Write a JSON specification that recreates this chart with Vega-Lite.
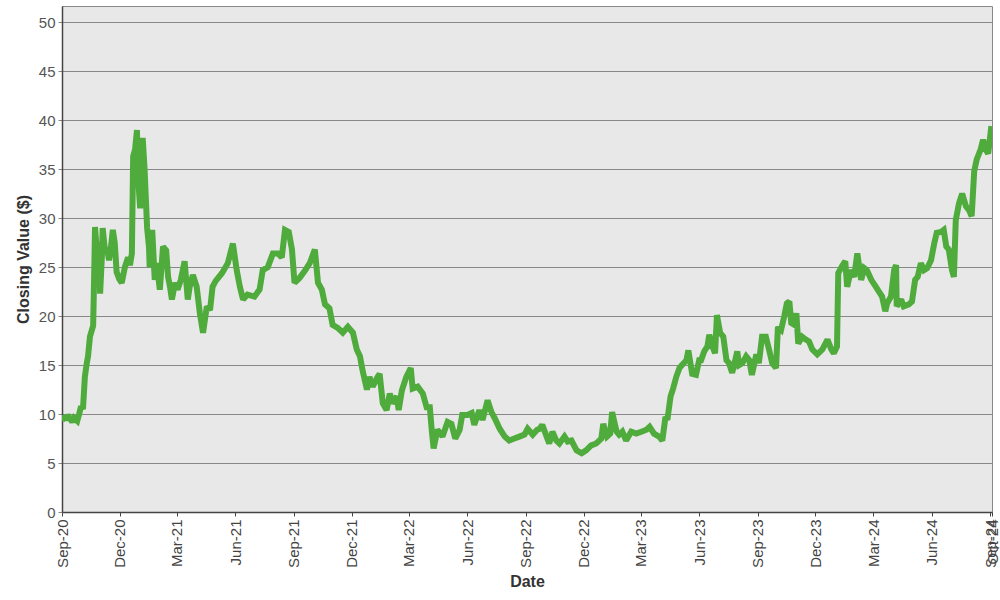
{
  "$schema": "https://vega.github.io/schema/vega-lite/v6.json",
  "width": 930,
  "height": 506,
  "autosize": {"type": "none"},
  "padding": {"left": 62, "top": 6, "right": 8, "bottom": 88},
  "background": "white",
  "config": {
    "view": {"fill": "#e8e8e8", "stroke": "#888888", "strokeWidth": 1},
    "font": "Liberation Sans"
  },
  "data": {"values": [
    {"d":"2020-09-28","v":9.3},{"d":"2020-10-01","v":9.8},{"d":"2020-10-04","v":9.4},{"d":"2020-10-07","v":9.9},
    {"d":"2020-10-11","v":9.5},{"d":"2020-10-14","v":9.2},{"d":"2020-10-17","v":9.6},{"d":"2020-10-22","v":9.3},
    {"d":"2020-10-25","v":10.0},{"d":"2020-10-28","v":10.8},{"d":"2020-10-31","v":10.5},{"d":"2020-11-03","v":13.8},
    {"d":"2020-11-06","v":15.2},{"d":"2020-11-08","v":15.9},{"d":"2020-11-11","v":17.9},{"d":"2020-11-16","v":19.0},
    {"d":"2020-11-17","v":22.0},{"d":"2020-11-19","v":29.1},{"d":"2020-11-22","v":26.5},{"d":"2020-11-25","v":27.5},
    {"d":"2020-11-27","v":22.3},{"d":"2020-11-30","v":26.4},{"d":"2020-12-01","v":29.0},{"d":"2020-12-05","v":26.5},
    {"d":"2020-12-08","v":27.0},{"d":"2020-12-11","v":25.7},{"d":"2020-12-14","v":27.0},{"d":"2020-12-17","v":28.8},
    {"d":"2020-12-20","v":27.5},{"d":"2020-12-23","v":24.5},{"d":"2020-12-27","v":23.8},{"d":"2020-12-31","v":23.4},
    {"d":"2021-01-05","v":25.0},{"d":"2021-01-10","v":26.0},{"d":"2021-01-13","v":25.2},{"d":"2021-01-16","v":26.4},
    {"d":"2021-01-18","v":36.3},{"d":"2021-01-21","v":37.0},{"d":"2021-01-24","v":39.0},{"d":"2021-01-25","v":35.0},
    {"d":"2021-01-29","v":31.0},{"d":"2021-01-30","v":33.0},{"d":"2021-02-02","v":38.2},{"d":"2021-02-05","v":35.0},
    {"d":"2021-02-09","v":29.0},{"d":"2021-02-12","v":27.0},{"d":"2021-02-13","v":25.0},{"d":"2021-02-17","v":28.8},
    {"d":"2021-02-21","v":23.7},{"d":"2021-02-24","v":25.4},{"d":"2021-03-01","v":22.7},{"d":"2021-03-06","v":27.1},
    {"d":"2021-03-11","v":26.7},{"d":"2021-03-14","v":24.0},{"d":"2021-03-17","v":23.0},{"d":"2021-03-20","v":21.7},
    {"d":"2021-03-25","v":23.4},{"d":"2021-03-29","v":22.7},{"d":"2021-04-03","v":23.7},{"d":"2021-04-09","v":25.6},
    {"d":"2021-04-14","v":21.7},{"d":"2021-04-17","v":23.0},{"d":"2021-04-22","v":24.2},{"d":"2021-04-28","v":23.0},
    {"d":"2021-05-03","v":20.3},{"d":"2021-05-08","v":18.3},{"d":"2021-05-14","v":21.0},{"d":"2021-05-19","v":20.6},
    {"d":"2021-05-23","v":23.0},{"d":"2021-05-28","v":23.6},{"d":"2021-06-07","v":24.4},{"d":"2021-06-16","v":25.4},
    {"d":"2021-06-24","v":27.4},{"d":"2021-06-30","v":24.7},{"d":"2021-07-05","v":23.0},{"d":"2021-07-10","v":21.7},
    {"d":"2021-07-17","v":22.2},{"d":"2021-07-28","v":22.0},{"d":"2021-08-05","v":22.7},{"d":"2021-08-10","v":24.7},
    {"d":"2021-08-18","v":25.0},{"d":"2021-08-26","v":26.4},{"d":"2021-09-03","v":26.4},{"d":"2021-09-09","v":26.0},
    {"d":"2021-09-14","v":28.8},{"d":"2021-09-20","v":28.6},{"d":"2021-09-25","v":26.8},{"d":"2021-09-29","v":23.4},
    {"d":"2021-10-07","v":23.9},{"d":"2021-10-15","v":24.6},{"d":"2021-10-23","v":25.4},{"d":"2021-10-31","v":26.8},
    {"d":"2021-11-05","v":23.4},{"d":"2021-11-11","v":22.7},{"d":"2021-11-16","v":21.2},{"d":"2021-11-23","v":20.8},
    {"d":"2021-11-28","v":19.1},{"d":"2021-12-06","v":18.8},{"d":"2021-12-14","v":18.3},{"d":"2021-12-22","v":18.9},
    {"d":"2021-12-30","v":18.3},{"d":"2022-01-05","v":16.6},{"d":"2022-01-10","v":15.9},{"d":"2022-01-14","v":14.5},
    {"d":"2022-01-21","v":12.5},{"d":"2022-01-25","v":13.8},{"d":"2022-01-30","v":12.8},{"d":"2022-02-07","v":13.8},
    {"d":"2022-02-10","v":14.1},{"d":"2022-02-15","v":11.1},{"d":"2022-02-21","v":10.4},{"d":"2022-02-26","v":12.1},
    {"d":"2022-03-02","v":11.1},{"d":"2022-03-09","v":11.8},{"d":"2022-03-12","v":10.4},{"d":"2022-03-17","v":12.4},
    {"d":"2022-03-24","v":13.8},{"d":"2022-03-31","v":14.7},{"d":"2022-04-03","v":12.6},{"d":"2022-04-11","v":12.8},
    {"d":"2022-04-19","v":12.1},{"d":"2022-04-25","v":10.7},{"d":"2022-04-30","v":10.7},{"d":"2022-05-03","v":8.4},
    {"d":"2022-05-06","v":6.5},{"d":"2022-05-12","v":8.4},{"d":"2022-05-20","v":7.7},{"d":"2022-05-28","v":9.2},
    {"d":"2022-06-03","v":9.0},{"d":"2022-06-09","v":7.5},{"d":"2022-06-16","v":8.4},{"d":"2022-06-20","v":9.9},
    {"d":"2022-06-28","v":9.9},{"d":"2022-07-05","v":10.1},{"d":"2022-07-09","v":8.9},{"d":"2022-07-17","v":10.4},
    {"d":"2022-07-22","v":9.4},{"d":"2022-07-30","v":11.4},{"d":"2022-08-05","v":10.2},{"d":"2022-08-10","v":9.6},
    {"d":"2022-08-18","v":8.5},{"d":"2022-08-26","v":7.7},{"d":"2022-09-02","v":7.3},{"d":"2022-09-10","v":7.5},
    {"d":"2022-09-18","v":7.7},{"d":"2022-09-26","v":7.9},{"d":"2022-10-01","v":8.5},{"d":"2022-10-09","v":7.9},
    {"d":"2022-10-16","v":8.4},{"d":"2022-10-20","v":8.5},{"d":"2022-10-24","v":8.9},{"d":"2022-10-31","v":7.7},
    {"d":"2022-11-04","v":7.0},{"d":"2022-11-09","v":8.2},{"d":"2022-11-15","v":7.3},{"d":"2022-11-20","v":7.0},
    {"d":"2022-11-28","v":7.7},{"d":"2022-12-03","v":7.2},{"d":"2022-12-09","v":7.3},{"d":"2022-12-17","v":6.3},
    {"d":"2022-12-25","v":6.0},{"d":"2023-01-01","v":6.3},{"d":"2023-01-09","v":6.8},{"d":"2023-01-17","v":7.0},
    {"d":"2023-01-25","v":7.5},{"d":"2023-01-28","v":9.0},{"d":"2023-02-03","v":7.7},{"d":"2023-02-08","v":8.0},
    {"d":"2023-02-11","v":10.2},{"d":"2023-02-18","v":8.2},{"d":"2023-02-22","v":7.9},{"d":"2023-02-27","v":8.2},
    {"d":"2023-03-05","v":7.3},{"d":"2023-03-13","v":8.2},{"d":"2023-03-21","v":8.0},{"d":"2023-03-29","v":8.2},
    {"d":"2023-04-06","v":8.4},{"d":"2023-04-11","v":8.7},{"d":"2023-04-18","v":8.0},{"d":"2023-04-26","v":7.7},
    {"d":"2023-05-01","v":7.3},{"d":"2023-05-06","v":9.7},{"d":"2023-05-09","v":9.4},{"d":"2023-05-14","v":11.8},
    {"d":"2023-05-18","v":12.6},{"d":"2023-05-23","v":13.8},{"d":"2023-05-28","v":14.7},{"d":"2023-06-01","v":15.0},
    {"d":"2023-06-08","v":15.5},{"d":"2023-06-11","v":16.5},{"d":"2023-06-17","v":14.1},{"d":"2023-06-23","v":14.0},
    {"d":"2023-06-28","v":15.5},{"d":"2023-07-01","v":15.5},{"d":"2023-07-06","v":16.4},{"d":"2023-07-11","v":16.9},
    {"d":"2023-07-14","v":18.1},{"d":"2023-07-19","v":16.9},{"d":"2023-07-23","v":16.2},{"d":"2023-07-26","v":20.1},
    {"d":"2023-07-31","v":18.3},{"d":"2023-08-05","v":17.9},{"d":"2023-08-10","v":15.5},{"d":"2023-08-14","v":15.2},
    {"d":"2023-08-19","v":14.2},{"d":"2023-08-27","v":16.4},{"d":"2023-08-30","v":15.0},{"d":"2023-09-04","v":15.2},
    {"d":"2023-09-10","v":15.9},{"d":"2023-09-15","v":15.5},{"d":"2023-09-19","v":14.0},{"d":"2023-09-26","v":16.1},
    {"d":"2023-09-30","v":15.2},{"d":"2023-10-05","v":17.9},{"d":"2023-10-11","v":17.9},{"d":"2023-10-16","v":16.6},
    {"d":"2023-10-21","v":15.2},{"d":"2023-10-27","v":14.7},{"d":"2023-10-30","v":18.9},{"d":"2023-11-04","v":18.6},
    {"d":"2023-11-09","v":20.0},{"d":"2023-11-13","v":21.3},{"d":"2023-11-17","v":21.5},{"d":"2023-11-20","v":19.3},
    {"d":"2023-11-25","v":19.1},{"d":"2023-11-28","v":20.3},{"d":"2023-12-01","v":17.2},{"d":"2023-12-07","v":17.9},
    {"d":"2023-12-13","v":17.6},{"d":"2023-12-18","v":17.4},{"d":"2023-12-23","v":16.6},{"d":"2023-12-31","v":16.1},
    {"d":"2024-01-08","v":16.6},{"d":"2024-01-16","v":17.6},{"d":"2024-01-22","v":16.6},{"d":"2024-01-26","v":16.2},
    {"d":"2024-01-31","v":16.9},{"d":"2024-02-02","v":24.4},{"d":"2024-02-08","v":25.1},{"d":"2024-02-13","v":25.6},
    {"d":"2024-02-16","v":23.0},{"d":"2024-02-22","v":24.7},{"d":"2024-02-27","v":24.0},{"d":"2024-03-03","v":26.4},
    {"d":"2024-03-09","v":23.7},{"d":"2024-03-14","v":24.9},{"d":"2024-03-18","v":24.7},{"d":"2024-03-25","v":23.7},
    {"d":"2024-04-01","v":23.0},{"d":"2024-04-06","v":22.5},{"d":"2024-04-11","v":22.0},{"d":"2024-04-16","v":20.5},
    {"d":"2024-04-19","v":21.3},{"d":"2024-04-25","v":22.0},{"d":"2024-04-30","v":24.7},{"d":"2024-05-03","v":25.2},
    {"d":"2024-05-04","v":21.0},{"d":"2024-05-11","v":21.7},{"d":"2024-05-15","v":21.0},{"d":"2024-05-23","v":21.2},
    {"d":"2024-05-28","v":21.5},{"d":"2024-06-02","v":23.7},{"d":"2024-06-06","v":24.0},{"d":"2024-06-11","v":25.4},
    {"d":"2024-06-16","v":24.7},{"d":"2024-06-21","v":24.9},{"d":"2024-06-27","v":25.7},{"d":"2024-07-02","v":27.4},
    {"d":"2024-07-06","v":28.5},{"d":"2024-07-13","v":28.6},{"d":"2024-07-17","v":28.8},{"d":"2024-07-21","v":27.1},
    {"d":"2024-07-25","v":26.8},{"d":"2024-07-30","v":24.7},{"d":"2024-08-02","v":24.0},{"d":"2024-08-05","v":29.8},
    {"d":"2024-08-10","v":31.5},{"d":"2024-08-15","v":32.5},{"d":"2024-08-21","v":31.2},{"d":"2024-08-26","v":30.8},
    {"d":"2024-08-30","v":30.2},{"d":"2024-09-03","v":34.8},{"d":"2024-09-07","v":36.0},{"d":"2024-09-13","v":37.0},
    {"d":"2024-09-17","v":38.0},{"d":"2024-09-21","v":37.0},{"d":"2024-09-25","v":36.6},{"d":"2024-09-30","v":39.4}
  ]},
  "mark": {"type": "line", "color": "#4fab3c", "strokeWidth": 6, "strokeJoin": "miter", "strokeMiterLimit": 2, "clip": true},
  "encoding": {
    "x": {
      "field": "d", "type": "temporal", "title": "Date",
      "scale": {"type": "utc", "domain": [{"year": 2020, "month": 9, "date": 28, "utc": true}, {"year": 2024, "month": 10, "date": 1, "utc": true}]},
      "axis": {
        "values": [
          {"year": 2020, "month": 9, "date": 28, "utc": true},
          {"year": 2020, "month": 12, "date": 28, "utc": true},
          {"year": 2021, "month": 3, "date": 28, "utc": true},
          {"year": 2021, "month": 6, "date": 28, "utc": true},
          {"year": 2021, "month": 9, "date": 28, "utc": true},
          {"year": 2021, "month": 12, "date": 28, "utc": true},
          {"year": 2022, "month": 3, "date": 28, "utc": true},
          {"year": 2022, "month": 6, "date": 28, "utc": true},
          {"year": 2022, "month": 9, "date": 28, "utc": true},
          {"year": 2022, "month": 12, "date": 28, "utc": true},
          {"year": 2023, "month": 3, "date": 28, "utc": true},
          {"year": 2023, "month": 6, "date": 28, "utc": true},
          {"year": 2023, "month": 9, "date": 28, "utc": true},
          {"year": 2023, "month": 12, "date": 28, "utc": true},
          {"year": 2024, "month": 3, "date": 28, "utc": true},
          {"year": 2024, "month": 6, "date": 28, "utc": true},
          {"year": 2024, "month": 9, "date": 28, "utc": true},
          {"year": 2024, "month": 10, "date": 1, "utc": true}
        ],
        "labelExpr": "utcFormat(datum.value, '%b-%y')",
        "labelAngle": -90, "labelAlign": "right", "labelBaseline": "middle",
        "labelFontSize": 15, "labelColor": "#444444", "labelPadding": 3, "labelOverlap": false, "labelFlush": false,
        "tickColor": "#444444", "tickSize": 4, "domainColor": "#444444", "domainWidth": 1.5,
        "grid": false,
        "titleFontSize": 16, "titleFontWeight": "bold", "titleColor": "#333333", "titlePadding": 6
      }
    },
    "y": {
      "field": "v", "type": "quantitative", "title": "Closing Value ($)",
      "scale": {"domain": [0, 51.66], "nice": false, "zero": true},
      "axis": {
        "values": [0, 5, 10, 15, 20, 25, 30, 35, 40, 45, 50],
        "labelFontSize": 15, "labelColor": "#555555", "labelPadding": 3,
        "tickColor": "#888888", "tickSize": 4, "domainColor": "#444444", "domainWidth": 1.5,
        "grid": true, "gridColor": "#888888", "gridWidth": 1, "gridOpacity": 1,
        "titleFontSize": 16, "titleFontWeight": "bold", "titleColor": "#333333", "titlePadding": 7
      }
    }
  }
}
